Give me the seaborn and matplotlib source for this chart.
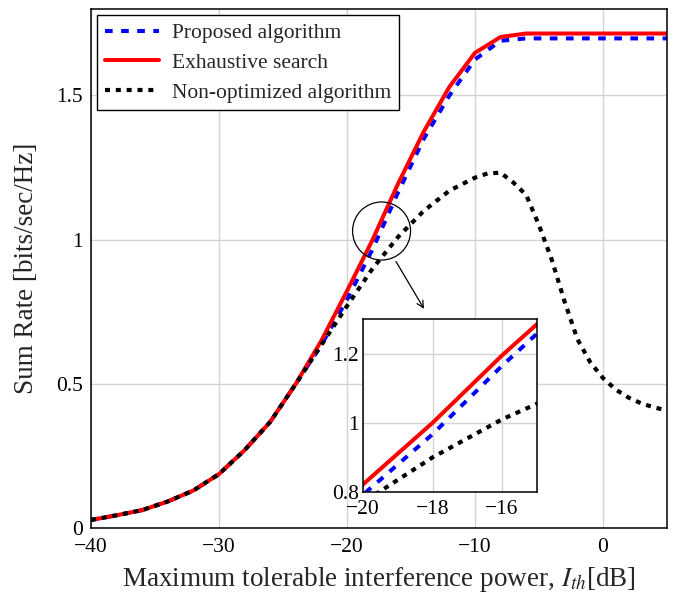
import numpy as np
import pandas as pd
import matplotlib
matplotlib.use("Agg")
import matplotlib.pyplot as plt
import seaborn as sns
from matplotlib.patches import Ellipse

# ---- data ----
x_red = [-40, -38, -36, -34, -32, -30, -28, -26, -24, -22, -20, -18, -16, -14, -12, -10, -8, -6, -4, -2, 0, 2, 4, 6]
y_red = [0.028, 0.044, 0.062, 0.092, 0.13, 0.187, 0.27, 0.368, 0.50, 0.65, 0.822, 1.0, 1.195, 1.375, 1.53, 1.648, 1.703, 1.715, 1.715, 1.715, 1.715, 1.715, 1.715, 1.715]

x_blue = [-40, -38, -36, -34, -32, -30, -28, -26, -24, -22, -20, -18, -16, -14, -12, -10, -8, -6, -4, -2, 0, 2, 4, 6]
y_blue = [0.028, 0.044, 0.062, 0.092, 0.13, 0.187, 0.27, 0.368, 0.50, 0.635, 0.792, 0.967, 1.165, 1.35, 1.50, 1.625, 1.69, 1.698, 1.698, 1.698, 1.698, 1.698, 1.698, 1.698]

x_black = [-40, -38, -36, -34, -32, -30, -28, -26, -24, -22, -20, -18, -16, -14, -12, -10, -9, -8, -7, -6, -5, -4, -3, -2, -1, 0, 1, 2, 3, 4, 5]
y_black = [0.028, 0.044, 0.062, 0.092, 0.13, 0.187, 0.27, 0.368, 0.50, 0.635, 0.77, 0.90, 1.01, 1.10, 1.17, 1.215, 1.23, 1.232, 1.198, 1.155, 1.05, 0.93, 0.785, 0.655, 0.575, 0.52, 0.48, 0.452, 0.432, 0.418, 0.408]

labels = ["Proposed algorithm", "Exhaustive search", "Non-optimized algorithm"]
x_ticks = [-40, -30, -20, -10, 0]
y_ticks = [0, 0.5, 1, 1.5]
y_ticklabels = ["0", "0.5", "1", "1.5"]
inset_xticks = [-20, -18, -16]
inset_yticks = [0.8, 1.0, 1.2]
inset_yticklabels = ["0.8", "1", "1.2"]

sns.set_theme(style="whitegrid")
plt.rcParams['font.family'] = ['Liberation Serif', 'DejaVu Serif']
plt.rcParams['mathtext.fontset'] = 'stix'
plt.rcParams['axes.unicode_minus'] = True

df_blue = pd.DataFrame({"x": x_blue, "y": y_blue})
df_red = pd.DataFrame({"x": x_red, "y": y_red})
df_black = pd.DataFrame({"x": x_black, "y": y_black})

fig = plt.figure(figsize=(6.76, 5.96), dpi=100)
ax = fig.add_axes([0.1346, 0.1141, 0.8521, 0.8708])

blue_style = dict(color="#0000ff", linewidth=2.9, linestyle=(0, (1.9, 2.1)), dash_capstyle="butt")
red_style = dict(color="#ff0000", linewidth=2.9, linestyle="-")
black_style = dict(color="#000000", linewidth=3.0, linestyle=(0, (1.2, 1.4)), dash_capstyle="butt")

def draw(a, with_labels):
    sns.lineplot(data=df_blue, x="x", y="y", ax=a, label=labels[0] if with_labels else None, sort=False, **blue_style)
    sns.lineplot(data=df_red, x="x", y="y", ax=a, label=labels[1] if with_labels else None, sort=False, **red_style)
    sns.lineplot(data=df_black, x="x", y="y", ax=a, label=labels[2] if with_labels else None, sort=False, **black_style)

def style_axes(a):
    a.set_facecolor("white")
    a.grid(True, color="#d3d3d3", linewidth=1.0)
    for s in a.spines.values():
        s.set_edgecolor("black")
        s.set_linewidth(1.1)
    a.tick_params(axis="both", direction="in", length=3, color="#b0b0b0", labelsize=15.5, labelcolor="black")

draw(ax, True)
style_axes(ax)
ax.tick_params(axis="x", pad=7)
ax.tick_params(axis="y", pad=6)
ax.set_xlim(-40, 5)
ax.set_ylim(0, 1.8)
ax.set_xticks(x_ticks)
ax.set_yticks(y_ticks)
ax.set_yticklabels(y_ticklabels)
ax.set_xlabel(r"Maximum tolerable interference power, $I_{th}$[dB]", fontsize=19.5, labelpad=6)
ax.set_ylabel("Sum Rate [bits/sec/Hz]", fontsize=19.5, labelpad=12)

leg = ax.legend(loc="upper left", fontsize=15.5, frameon=True, fancybox=False, framealpha=1,
                edgecolor="black", handlelength=2.5, borderpad=0.35, labelspacing=0.45,
                handletextpad=0.6, borderaxespad=0.3)
leg.get_frame().set_linewidth(1.0)

# zoom circle and arrow
circ = Ellipse((-17.3, 1.03), width=58 / 12.8, height=58 / 288, fill=False, edgecolor="black", linewidth=0.9, zorder=5)
ax.add_patch(circ)
ax.annotate("", xy=(-13.98, 0.76), xytext=(-16.17, 0.924),
            arrowprops=dict(arrowstyle="->", color="black", lw=0.9, shrinkA=0, shrinkB=0), zorder=5)

# inset
axin = fig.add_axes([0.537, 0.1745, 0.257, 0.290])
draw(axin, False)
style_axes(axin)
axin.set_xlim(-20, -15)
axin.set_ylim(0.8, 1.3)
axin.set_xticks(inset_xticks)
axin.set_yticks(inset_yticks)
axin.set_yticklabels(inset_yticklabels)
axin.set_xlabel("")
axin.set_ylabel("")
axin.tick_params(axis="x", pad=6)
axin.tick_params(axis="y", pad=3)

fig.savefig("out.png", dpi=100)
